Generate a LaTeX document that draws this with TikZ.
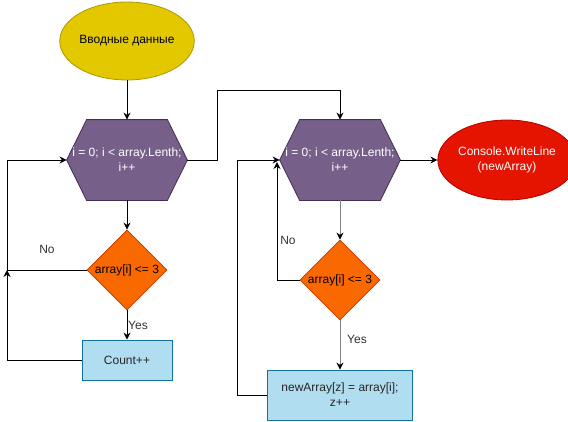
\documentclass[tikz,border=0pt]{standalone}
\usepackage{fontspec}
\setmainfont{Liberation Sans}
\usepackage{tikz}
\usetikzlibrary{arrows.meta}
\usetikzlibrary{backgrounds}
\usetikzlibrary{shapes.geometric}
\usetikzlibrary{positioning}

\definecolor{inyellow}{HTML}{E3C800}
\definecolor{inyellowline}{HTML}{B09500}
\definecolor{hexfill}{HTML}{76608A}
\definecolor{hexline}{HTML}{432D57}
\definecolor{ifill}{HTML}{FA6800}
\definecolor{iline}{HTML}{C73500}
\definecolor{boxfill}{HTML}{B1DDF0}
\definecolor{boxline}{HTML}{10739E}
\definecolor{outfill}{HTML}{E51400}
\definecolor{outline}{HTML}{B20000}

\begin{document}
\begin{tikzpicture}[x=1pt, y=-1pt,
    every node/.style={font=\fontsize{12}{15}\selectfont, inner sep=0pt},
    input/.style={ellipse, draw=inyellowline, fill=inyellow, minimum width=120, minimum height=78},
    loop/.style={rectangle, minimum width=120, minimum height=80, text=white, align=center},
    check/.style={diamond, draw=iline, fill=ifill, minimum size=80},
    action/.style={rectangle, draw=boxline, fill=boxfill, align=center, text=black!85},
    output/.style={ellipse, draw=outline, fill=outfill, minimum width=120, minimum height=80, text=white, align=center},
    lbl/.style={text=black!80}]
	\useasboundingbox (0,0) rectangle (568,421);

	\begin{scope}[line width=0.8pt]
		\node[input] (input) at (127,41) {Вводные данные};
		\node[loop] (loopA) at (127,160) {i = 0; i < array.Lenth;\\ i++};
		\node[check] (checkA) at (127,270) {};
		\node at (checkA.center) {array[i] <= 3};
		\node[action, minimum width=90, minimum height=40] (countA) at (127,360) {Count++};

		\node[loop] (loopB) at (340,160) {i = 0; i < array.Lenth;\\ i++};
		\node[check] (checkB) at (340,280) {};
		\node at (checkB.center) {array[i] <= 3};
		\node[action, minimum width=145, minimum height=50] (copyB) at (340,395) {newArray[z] = array[i];\\ z++};
		\node[output] (output) at (507,160) {Console.WriteLine\\ (newArray)};
	\end{scope}

	% hexagons behind the loop headers
	\begin{scope}[on background layer]
		\foreach \h in {loopA, loopB}
			\filldraw[fill=hexfill, draw=hexline, line width=0.8pt] (\h.west) -- ([xshift=20]\h.north west) -- ([xshift=-20]\h.north east)
				-- (\h.east) -- ([xshift=-20]\h.south east) -- ([xshift=20]\h.south west) -- cycle;
	\end{scope}

	\coordinate (noA) at (7,270);
	\coordinate (jump) at (217,90);
	\coordinate (noB) at (277,162);
	\coordinate (backB) at (237,160);

	\begin{scope}[>={Stealth[black, length=7pt, width=7pt]}, line width=0.9pt]
		\draw[->] (input) -- (loopA);
		\draw[->] (loopA) -- (checkA);
		\draw[->] (checkA) -- (countA);
		\draw[->] (checkA.west) -- (noA) |- (loopA.west);
		\draw[->] (countA.west) -| (noA);
		\draw[->] (loopA.east) -| (jump) -| (loopB.north);
		\draw[->] (loopB.east) -- (output.west);
		\draw[->, draw=gray] (loopB) -- (checkB);
		\draw[->, draw=gray] (checkB) -- (copyB);
		\draw[->] (checkB.west) -| (noB);
		\draw[->] (copyB.west) -| (backB) -- (loopB.west);
	\end{scope}

	\node[lbl] (noLblA) at (47,249) {No};
	\node[lbl, anchor=west] (yesLblA) at (128,325) {Yes};
	\node[lbl] (noLblB) at (288,240) {No};
	\node[lbl, anchor=west] (yesLblB) at (347,339) {Yes};
\end{tikzpicture}
\end{document}
